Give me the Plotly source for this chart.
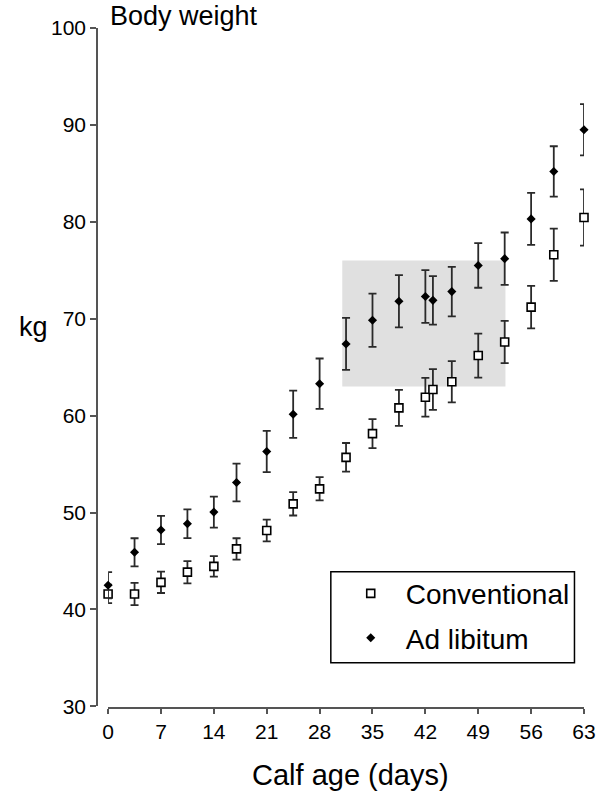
import plotly.graph_objects as go

days_adlib = [0, 3.5, 7, 10.5, 14, 17, 21, 24.5, 28, 31.5, 35, 38.5, 42, 43, 45.5, 49, 52.5, 56, 59, 63]
adlib_kg = [42.5, 45.9, 48.2, 48.85, 50.05, 53.1, 56.3, 60.15, 63.3, 67.4, 69.85, 71.8, 72.3, 71.9, 72.8, 75.5, 76.2, 80.3, 85.2, 89.5]
adlib_err = [1.35, 1.45, 1.45, 1.48, 1.6, 1.95, 2.13, 2.44, 2.6, 2.68, 2.75, 2.7, 2.72, 2.5, 2.55, 2.3, 2.7, 2.68, 2.6, 2.65]

days_conv = [0, 3.5, 7, 10.5, 14, 17, 21, 24.5, 28, 31.5, 35, 38.5, 42, 43, 45.5, 49, 52.5, 56, 59, 63]
conv_kg = [41.6, 41.6, 42.8, 43.85, 44.45, 46.25, 48.15, 50.9, 52.45, 55.7, 58.15, 60.8, 61.9, 62.7, 63.5, 66.2, 67.6, 71.2, 76.6, 80.45]
conv_err = [0.95, 1.14, 1.1, 1.15, 1.05, 1.1, 1.13, 1.2, 1.2, 1.48, 1.5, 1.85, 2.0, 2.1, 2.13, 2.27, 2.17, 2.2, 2.7, 2.9]

x_ticks = [0, 7, 14, 21, 28, 35, 42, 49, 56, 63]
y_ticks = [30, 40, 50, 60, 70, 80, 90, 100]
shade_x = [31, 52.6]
shade_y = [63, 76]

FONT = "Liberation Sans, Arial, sans-serif"
W, H = 608, 801
ML, MR, MT, MB = 97, 15.3, 28.3, 92.7
PW = W - ML - MR
PH = H - MT - MB

fig = go.Figure()

fig.add_trace(go.Scatter(
    x=days_conv, y=conv_kg, mode="markers", name="Conventional", legendgroup="c",
    error_y=dict(type="data", array=conv_err, visible=True, color="#2a2a2a", thickness=1.8, width=4),
    marker=dict(symbol="square", size=8, color="white", line=dict(color="black", width=1.6)),
    cliponaxis=False,
))
fig.add_trace(go.Scatter(
    x=days_adlib, y=adlib_kg, mode="markers", name="Ad libitum", legendgroup="a",
    error_y=dict(type="data", array=adlib_err, visible=True, color="#2a2a2a", thickness=1.8, width=4),
    marker=dict(symbol="diamond", size=7, color="black", line=dict(width=0)),
    cliponaxis=False,
))

fig.add_shape(type="rect", xref="x", yref="y", x0=shade_x[0], x1=shade_x[1], y0=shade_y[0], y1=shade_y[1],
              fillcolor="#e0e0e0", line=dict(width=0), layer="below")


def px_x(p):
    return (p - ML) / PW


def px_y(p):
    return (H - MB - p) / PH


# legend box
fig.add_shape(type="rect", xref="paper", yref="paper",
              x0=px_x(335), x1=px_x(583), y0=px_y(663), y1=px_y(572),
              line=dict(color="black", width=1.5), fillcolor="rgba(0,0,0,0)")

x_start = (108.3 - ML) / PW
fig.update_layout(
    width=W, height=H,
    margin=dict(l=ML, r=MR, t=MT, b=MB, pad=0),
    plot_bgcolor="white", paper_bgcolor="white",
    font=dict(family=FONT, color="black", size=21),
    showlegend=True,
    legend=dict(x=px_x(340), y=px_y(569), xanchor="left", yanchor="top",
                bgcolor="rgba(0,0,0,0)", borderwidth=0, itemwidth=60,
                tracegroupgap=5,
                font=dict(size=28, family=FONT, color="black")),
    xaxis=dict(domain=[x_start, 1], range=[0, 63], anchor="free", position=0,
               tickvals=x_ticks, ticktext=[str(v) for v in x_ticks],
               showline=True, linecolor="#555", linewidth=1.6,
               ticks="outside", ticklen=5, tickwidth=1.5, tickcolor="#555",
               showgrid=False, zeroline=False, tickfont=dict(size=21)),
    yaxis=dict(domain=[1.6 / PH, 1], range=[30, 100], anchor="free", position=0,
               tickvals=y_ticks, ticktext=[str(v) for v in y_ticks],
               showline=True, linecolor="#555", linewidth=1.6,
               ticks="outside", ticklen=6, tickwidth=1.5, tickcolor="#555",
               showgrid=False, zeroline=False, tickfont=dict(size=21)),
    annotations=[
        dict(text="Body weight", xref="paper", yref="paper", x=px_x(108), y=px_y(16),
             xanchor="left", yanchor="middle", showarrow=False, font=dict(size=27)),
        dict(text="kg", xref="paper", yref="paper", x=px_x(32), y=px_y(327),
             xanchor="center", yanchor="middle", showarrow=False, font=dict(size=27)),
        dict(text="Calf age (days)", xref="paper", yref="paper", x=px_x(355), y=px_y(775),
             xanchor="center", yanchor="middle", showarrow=False, font=dict(size=29)),
    ],
)

fig.write_html("out.html")
